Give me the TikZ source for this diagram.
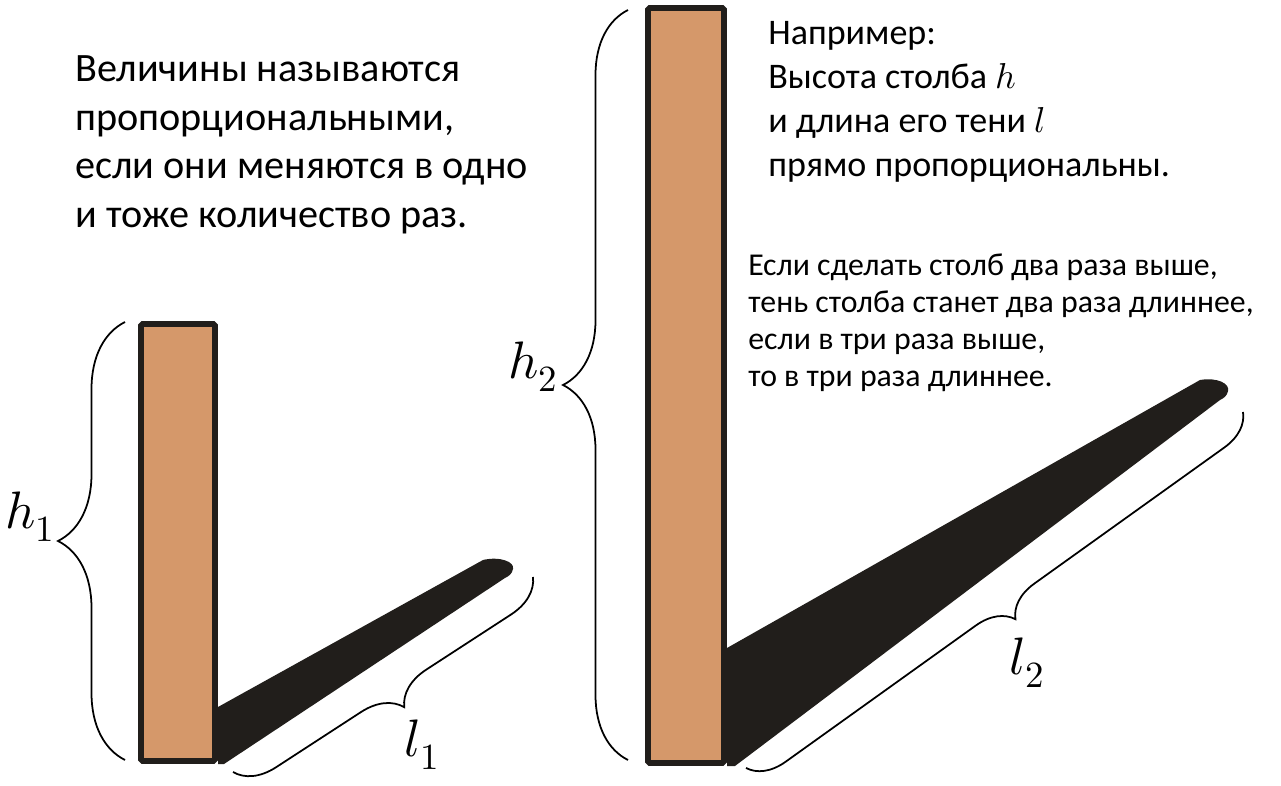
\documentclass[tikz,border=0pt]{standalone}
\usepackage{fontspec}
\usepackage{unicode-math}
\setmainfont{Carlito}
\usetikzlibrary{decorations.pathreplacing}

\definecolor{stolb}{RGB}{213,152,106}
\definecolor{ten}{RGB}{33,30,27}

\begin{document}
\begin{tikzpicture}[x=0.02cm, y=-0.02cm]
	% стили
	\tikzset{
		skobka/.style={
			decorate,
			decoration={brace, amplitude=#1},
			line width=1pt
		},
		stolbik/.style = {
			draw=ten, fill=stolb,
			line width=3.4pt,
			rounded corners=1pt
		},
		tekst/.style = {anchor=north west, inner sep=0pt, align=left},
		bukva/.style = {inner sep=0pt, font=\fontsize{30}{36}\selectfont}
	}
	\useasboundingbox (0,0) rectangle (1281,786);
	
	% тени столбов
	\fill[ten] (218,707) -- (483,560) .. controls (500,556) and (515,562) .. (513,569)
		.. controls (512,574) and (509,576) .. (505,578) -- (224,764) -- (218,764) -- cycle;
	\fill[ten] (727,648) -- (1200,380) .. controls (1218,377) and (1230,384) .. (1228,391)
		.. controls (1227,396) and (1224,398) .. (1220,400) -- (735,766) -- (727,766) -- cycle;
	
	% столбы
	\draw[stolbik] (141,324) rectangle (215,761);
	\draw[stolbik] (648,8) rectangle (724,763);
	
	% концы скобок
	\coordinate (h1a) at (125,760);
	\coordinate (h1b) at (125,322);
	\coordinate (h2a) at (628,760);
	\coordinate (h2b) at (628,10);
	\coordinate (l1a) at (533,577);
	\coordinate (l1b) at (233,772);
	\coordinate (l2a) at (1243,412);
	\coordinate (l2b) at (746,768);
	
	% скобки
	\draw[skobka=1.34cm] (h1a) -- (h1b);
	\draw[skobka=1.3cm] (h2a) -- (h2b);
	\draw[skobka=0.78cm] (l1a) -- (l1b);
	\draw[skobka=0.72cm] (l2a) -- (l2b);
	
	% обозначения
	\node[bukva] (h1) at (30,517) {$h_1$};
	\node[bukva] (h2) at (533,367) {$h_2$};
	\node[bukva] (l1) at (422,745) {$l_1$};
	\node[bukva] (l2) at (1027,663) {$l_2$};
	
	% тексты
	\node[tekst, font=\fontsize{22.9}{27.8}\selectfont] (opred) at (75,55)
		{Величины называются\\пропорциональными,\\если они меняются в одно\\и тоже количество раз.};
	\node[tekst, font=\fontsize{20.5}{25}\selectfont] (primer) at (768,21)
		{Например:\\Высота столба $h$\\и длина его тени $l$\\прямо пропорциональны.};
	\node[tekst, font=\fontsize{18.1}{21}\selectfont] (esli) at (748,254)
		{Если сделать столб два раза выше,\\тень столба станет два раза длиннее,\\если в три раза выше,\\то в три раза длиннее.};
\end{tikzpicture}
\end{document}
